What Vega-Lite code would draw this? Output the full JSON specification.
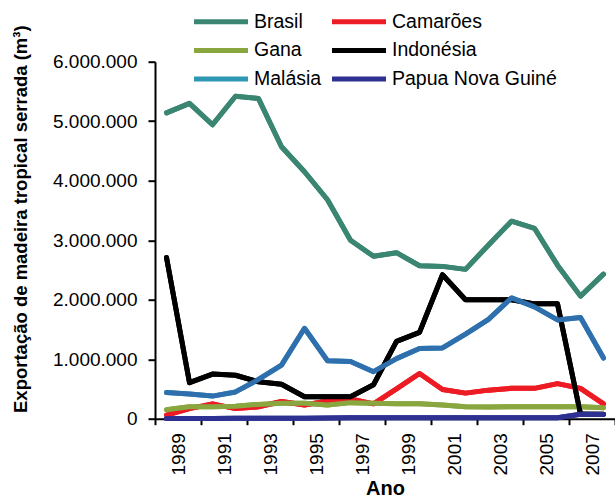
{
  "$schema": "https://vega.github.io/schema/vega-lite/v6.json",
  "autosize": {"type": "none"},
  "width": 460,
  "height": 357,
  "padding": {"left": 155, "top": 61.7, "right": 0, "bottom": 82.3},
  "background": "white",
  "config": {
    "view": {"stroke": null},
    "font": "Liberation Sans",
    "axis": {
      "labelFont": "Liberation Sans",
      "titleFont": "Liberation Sans",
      "labelColor": "#000",
      "titleColor": "#000",
      "domainColor": "#000",
      "tickColor": "#000",
      "domainWidth": 2,
      "tickWidth": 2,
      "grid": false
    }
  },
  "data": {
    "values": [
      {"ano": 1989, "pais": "Brasil", "valor": 5140000},
      {"ano": 1990, "pais": "Brasil", "valor": 5300000},
      {"ano": 1991, "pais": "Brasil", "valor": 4940000},
      {"ano": 1992, "pais": "Brasil", "valor": 5420000},
      {"ano": 1993, "pais": "Brasil", "valor": 5380000},
      {"ano": 1994, "pais": "Brasil", "valor": 4570000},
      {"ano": 1995, "pais": "Brasil", "valor": 4150000},
      {"ano": 1996, "pais": "Brasil", "valor": 3680000},
      {"ano": 1997, "pais": "Brasil", "valor": 3000000},
      {"ano": 1998, "pais": "Brasil", "valor": 2730000},
      {"ano": 1999, "pais": "Brasil", "valor": 2790000},
      {"ano": 2000, "pais": "Brasil", "valor": 2570000},
      {"ano": 2001, "pais": "Brasil", "valor": 2560000},
      {"ano": 2002, "pais": "Brasil", "valor": 2510000},
      {"ano": 2003, "pais": "Brasil", "valor": 2920000},
      {"ano": 2004, "pais": "Brasil", "valor": 3320000},
      {"ano": 2005, "pais": "Brasil", "valor": 3200000},
      {"ano": 2006, "pais": "Brasil", "valor": 2580000},
      {"ano": 2007, "pais": "Brasil", "valor": 2060000},
      {"ano": 2008, "pais": "Brasil", "valor": 2430000},
      {"ano": 1989, "pais": "Camarões", "valor": 60000},
      {"ano": 1990, "pais": "Camarões", "valor": 170000},
      {"ano": 1991, "pais": "Camarões", "valor": 250000},
      {"ano": 1992, "pais": "Camarões", "valor": 170000},
      {"ano": 1993, "pais": "Camarões", "valor": 200000},
      {"ano": 1994, "pais": "Camarões", "valor": 290000},
      {"ano": 1995, "pais": "Camarões", "valor": 230000},
      {"ano": 1996, "pais": "Camarões", "valor": 300000},
      {"ano": 1997, "pais": "Camarões", "valor": 330000},
      {"ano": 1998, "pais": "Camarões", "valor": 250000},
      {"ano": 1999, "pais": "Camarões", "valor": 500000},
      {"ano": 2000, "pais": "Camarões", "valor": 760000},
      {"ano": 2001, "pais": "Camarões", "valor": 490000},
      {"ano": 2002, "pais": "Camarões", "valor": 430000},
      {"ano": 2003, "pais": "Camarões", "valor": 480000},
      {"ano": 2004, "pais": "Camarões", "valor": 510000},
      {"ano": 2005, "pais": "Camarões", "valor": 510000},
      {"ano": 2006, "pais": "Camarões", "valor": 590000},
      {"ano": 2007, "pais": "Camarões", "valor": 510000},
      {"ano": 2008, "pais": "Camarões", "valor": 250000},
      {"ano": 1989, "pais": "Gana", "valor": 150000},
      {"ano": 1990, "pais": "Gana", "valor": 200000},
      {"ano": 1991, "pais": "Gana", "valor": 200000},
      {"ano": 1992, "pais": "Gana", "valor": 210000},
      {"ano": 1993, "pais": "Gana", "valor": 240000},
      {"ano": 1994, "pais": "Gana", "valor": 260000},
      {"ano": 1995, "pais": "Gana", "valor": 260000},
      {"ano": 1996, "pais": "Gana", "valor": 230000},
      {"ano": 1997, "pais": "Gana", "valor": 270000},
      {"ano": 1998, "pais": "Gana", "valor": 260000},
      {"ano": 1999, "pais": "Gana", "valor": 250000},
      {"ano": 2000, "pais": "Gana", "valor": 250000},
      {"ano": 2001, "pais": "Gana", "valor": 230000},
      {"ano": 2002, "pais": "Gana", "valor": 200000},
      {"ano": 2003, "pais": "Gana", "valor": 195000},
      {"ano": 2004, "pais": "Gana", "valor": 200000},
      {"ano": 2005, "pais": "Gana", "valor": 200000},
      {"ano": 2006, "pais": "Gana", "valor": 200000},
      {"ano": 2007, "pais": "Gana", "valor": 200000},
      {"ano": 2008, "pais": "Gana", "valor": 185000},
      {"ano": 1989, "pais": "Indonésia", "valor": 2710000},
      {"ano": 1990, "pais": "Indonésia", "valor": 605000},
      {"ano": 1991, "pais": "Indonésia", "valor": 750000},
      {"ano": 1992, "pais": "Indonésia", "valor": 730000},
      {"ano": 1993, "pais": "Indonésia", "valor": 620000},
      {"ano": 1994, "pais": "Indonésia", "valor": 580000},
      {"ano": 1995, "pais": "Indonésia", "valor": 370000},
      {"ano": 1996, "pais": "Indonésia", "valor": 370000},
      {"ano": 1997, "pais": "Indonésia", "valor": 370000},
      {"ano": 1998, "pais": "Indonésia", "valor": 570000},
      {"ano": 1999, "pais": "Indonésia", "valor": 1300000},
      {"ano": 2000, "pais": "Indonésia", "valor": 1450000},
      {"ano": 2001, "pais": "Indonésia", "valor": 2420000},
      {"ano": 2002, "pais": "Indonésia", "valor": 2000000},
      {"ano": 2003, "pais": "Indonésia", "valor": 2000000},
      {"ano": 2004, "pais": "Indonésia", "valor": 2000000},
      {"ano": 2005, "pais": "Indonésia", "valor": 1930000},
      {"ano": 2006, "pais": "Indonésia", "valor": 1930000},
      {"ano": 2007, "pais": "Indonésia", "valor": 80000},
      {"ano": 2008, "pais": "Indonésia", "valor": 75000},
      {"ano": 1989, "pais": "Malásia", "valor": 440000},
      {"ano": 1990, "pais": "Malásia", "valor": 415000},
      {"ano": 1991, "pais": "Malásia", "valor": 380000},
      {"ano": 1992, "pais": "Malásia", "valor": 450000},
      {"ano": 1993, "pais": "Malásia", "valor": 660000},
      {"ano": 1994, "pais": "Malásia", "valor": 900000},
      {"ano": 1995, "pais": "Malásia", "valor": 1520000},
      {"ano": 1996, "pais": "Malásia", "valor": 975000},
      {"ano": 1997, "pais": "Malásia", "valor": 960000},
      {"ano": 1998, "pais": "Malásia", "valor": 790000},
      {"ano": 1999, "pais": "Malásia", "valor": 1010000},
      {"ano": 2000, "pais": "Malásia", "valor": 1180000},
      {"ano": 2001, "pais": "Malásia", "valor": 1190000},
      {"ano": 2002, "pais": "Malásia", "valor": 1420000},
      {"ano": 2003, "pais": "Malásia", "valor": 1670000},
      {"ano": 2004, "pais": "Malásia", "valor": 2030000},
      {"ano": 2005, "pais": "Malásia", "valor": 1880000},
      {"ano": 2006, "pais": "Malásia", "valor": 1660000},
      {"ano": 2007, "pais": "Malásia", "valor": 1700000},
      {"ano": 2008, "pais": "Malásia", "valor": 1020000},
      {"ano": 1989, "pais": "Papua Nova Guiné", "valor": 5000},
      {"ano": 1990, "pais": "Papua Nova Guiné", "valor": 5000},
      {"ano": 1991, "pais": "Papua Nova Guiné", "valor": 5000},
      {"ano": 1992, "pais": "Papua Nova Guiné", "valor": 6000},
      {"ano": 1993, "pais": "Papua Nova Guiné", "valor": 6000},
      {"ano": 1994, "pais": "Papua Nova Guiné", "valor": 7000},
      {"ano": 1995, "pais": "Papua Nova Guiné", "valor": 8000},
      {"ano": 1996, "pais": "Papua Nova Guiné", "valor": 10000},
      {"ano": 1997, "pais": "Papua Nova Guiné", "valor": 15000},
      {"ano": 1998, "pais": "Papua Nova Guiné", "valor": 15000},
      {"ano": 1999, "pais": "Papua Nova Guiné", "valor": 14000},
      {"ano": 2000, "pais": "Papua Nova Guiné", "valor": 15000},
      {"ano": 2001, "pais": "Papua Nova Guiné", "valor": 16000},
      {"ano": 2002, "pais": "Papua Nova Guiné", "valor": 15000},
      {"ano": 2003, "pais": "Papua Nova Guiné", "valor": 14000},
      {"ano": 2004, "pais": "Papua Nova Guiné", "valor": 15000},
      {"ano": 2005, "pais": "Papua Nova Guiné", "valor": 15000},
      {"ano": 2006, "pais": "Papua Nova Guiné", "valor": 17000},
      {"ano": 2007, "pais": "Papua Nova Guiné", "valor": 75000},
      {"ano": 2008, "pais": "Papua Nova Guiné", "valor": 70000}
    ]
  },
  "encoding": {
    "x": {
      "field": "ano",
      "type": "quantitative",
      "scale": {"domain": [1988.5, 2008.5], "nice": false, "zero": false},
      "axis": {
        "title": "Ano",
        "values": [1988.5, 1990.5, 1992.5, 1994.5, 1996.5, 1998.5, 2000.5, 2002.5, 2004.5, 2006.5, 2008.5],
        "labelExpr": "datum.value < 2008 ? '' + (datum.value + 0.5) : ''",
        "labelAngle": -90,
        "labelOffset": 23,
        "labelFlush": false,
        "labelOverlap": false,
        "labelFontSize": 19,
        "labelPadding": 8,
        "tickSize": 6,
        "titleFontSize": 20,
        "titleFontWeight": "bold",
        "titleY": 76,
        "titleBaseline": "alphabetic"
      }
    },
    "y": {
      "field": "valor",
      "type": "quantitative",
      "scale": {"domain": [0, 6000000], "nice": false},
      "axis": {
        "title": "Exportação de madeira tropical serrada (m³)",
        "values": [0, 1000000, 2000000, 3000000, 4000000, 5000000, 6000000],
        "labelExpr": "replace(format(datum.value, ','), regexp(',', 'g'), '.')",
        "labelFontSize": 19,
        "labelPadding": 11,
        "labelFlush": false,
        "tickSize": 7,
        "titleFontSize": 18.5,
        "titleFontWeight": "bold",
        "titleX": -129,
        "titleY": 157,
        "titleBaseline": "alphabetic",
        "titleAngle": -90
      }
    }
  },
  "layer": [
    {
      "mark": {"type": "line", "strokeWidth": 5, "strokeCap": "round", "strokeJoin": "round"},
      "encoding": {
        "color": {
          "field": "pais",
          "type": "nominal",
          "scale": {
            "domain": ["Brasil", "Camarões", "Gana", "Indonésia", "Malásia", "Papua Nova Guiné"],
            "range": ["#3A8672", "#ED1C24", "#8AA63F", "#000000", "#2E98B3", "#2E3192"]
          },
          "legend": {
            "orient": "none",
            "legendX": 50,
            "legendY": -56,
            "columns": 2,
            "direction": "horizontal",
            "title": null,
            "symbolType": "M-2,0H2",
            "symbolSize": 729,
            "symbolStrokeWidth": 5,
            "labelFont": "Liberation Sans",
            "labelFontSize": 19.5,
            "labelColor": "#000",
            "labelOffset": 17,
            "labelLimit": 400,
            "rowPadding": 2.7,
            "columnPadding": 0,
            "padding": 0
          }
        }
      }
    },
    {
      "mark": {"type": "line", "strokeWidth": 5, "strokeCap": "round", "strokeJoin": "round"},
      "encoding": {
        "stroke": {
          "field": "pais",
          "type": "nominal",
          "scale": {
            "domain": ["Brasil", "Camarões", "Gana", "Indonésia", "Malásia", "Papua Nova Guiné"],
            "range": ["#3A8672", "#ED1C24", "#8AA63F", "#000000", "#2F6FAE", "#2E3192"]
          },
          "legend": null
        }
      }
    }
  ]
}
